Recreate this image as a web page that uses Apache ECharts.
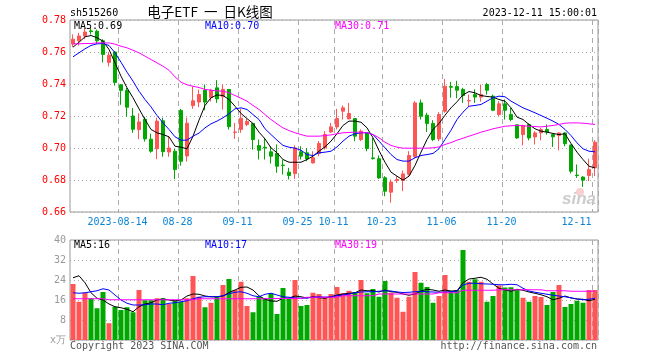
<!DOCTYPE html>
<html><head><meta charset="utf-8">
<script src="https://cdn.jsdelivr.net/npm/echarts@6/dist/echarts.min.js"></script>
<style>html,body{margin:0;padding:0;background:#fff}#c{width:660px;height:360px}</style>
</head><body><div id="c"></div>
<script>
const dates = ['2023-08-02','2023-08-03','2023-08-04','2023-08-07','2023-08-08','2023-08-09','2023-08-10','2023-08-11','2023-08-14','2023-08-15','2023-08-16','2023-08-17','2023-08-18','2023-08-21','2023-08-22','2023-08-23','2023-08-24','2023-08-25','2023-08-28','2023-08-29','2023-08-30','2023-08-31',
'2023-09-01','2023-09-04','2023-09-05','2023-09-06','2023-09-07','2023-09-08','2023-09-11','2023-09-12','2023-09-13','2023-09-14','2023-09-15','2023-09-18','2023-09-19','2023-09-20','2023-09-21','2023-09-22','2023-09-25','2023-09-26','2023-09-27','2023-09-28',
'2023-10-09','2023-10-10','2023-10-11','2023-10-12','2023-10-13','2023-10-16','2023-10-17','2023-10-18','2023-10-19','2023-10-20','2023-10-23','2023-10-24','2023-10-25','2023-10-26','2023-10-27','2023-10-30','2023-10-31',
'2023-11-01','2023-11-02','2023-11-03','2023-11-06','2023-11-07','2023-11-08','2023-11-09','2023-11-10','2023-11-13','2023-11-14','2023-11-15','2023-11-16','2023-11-17','2023-11-20','2023-11-21','2023-11-22','2023-11-23','2023-11-24','2023-11-27','2023-11-28','2023-11-29','2023-11-30',
'2023-12-01','2023-12-04','2023-12-05','2023-12-06','2023-12-07','2023-12-08','2023-12-11'];

const tickDates = ['2023-08-14','2023-08-28','2023-09-11','2023-09-25','2023-10-11','2023-10-23','2023-11-06','2023-11-20','2023-12-11'];
const tickTexts = ['2023-08-14','08-28','09-11','09-25','10-11','10-23','11-06','11-20','12-11'];

// [open, close, low, high]
const kdata = [
[0.765,0.768,0.763,0.771],[0.767,0.770,0.764,0.772],[0.770,0.7725,0.768,0.775],[0.7732,0.7728,0.771,0.775],[0.773,0.767,0.765,0.774],
[0.767,0.7585,0.7535,0.768],[0.7535,0.758,0.751,0.760],[0.760,0.741,0.739,0.7605],[0.7395,0.736,0.727,0.740],[0.736,0.7255,0.7195,0.7375],
[0.720,0.7117,0.7095,0.725],[0.7115,0.7163,0.7055,0.7217],[0.718,0.7057,0.704,0.7195],[0.7055,0.698,0.697,0.709],[0.6995,0.7168,0.693,0.719],
[0.717,0.6977,0.6945,0.719],[0.6975,0.700,0.6945,0.707],[0.698,0.6865,0.6805,0.6995],[0.7235,0.6917,0.689,0.7245],[0.695,0.7155,0.6915,0.719],
[0.7265,0.7295,0.7245,0.7385],[0.7287,0.7334,0.7255,0.7365],[0.7361,0.7287,0.7236,0.7397],[0.7314,0.7361,0.729,0.737],[0.7376,0.7307,0.7282,0.7424],
[0.732,0.7366,0.724,0.7397],[0.7366,0.7133,0.7116,0.7368],[0.7098,0.710,0.7057,0.7157],[0.7116,0.7186,0.7095,0.7245],[0.7147,0.7166,0.7136,0.7182],
[0.7153,0.7053,0.699,0.7155],[0.7015,0.6986,0.6928,0.7053],[0.7005,0.700,0.6928,0.7063],[0.6976,0.6949,0.6903,0.7011],[0.6966,0.6886,0.6845,0.7022],
[0.6893,0.6891,0.6834,0.6928],[0.6849,0.6828,0.6803,0.6876],[0.684,0.700,0.6807,0.7016],[0.6976,0.6949,0.6928,0.7011],[0.697,0.6932,0.6917,0.700],
[0.6907,0.6939,0.6903,0.698],[0.6966,0.7028,0.6949,0.7043],[0.7001,0.7084,0.699,0.7105],[0.710,0.7132,0.7095,0.7157],[0.7132,0.7184,0.7116,0.7245],
[0.723,0.7251,0.7178,0.7266],[0.7182,0.7216,0.718,0.7282],[0.7184,0.7074,0.7043,0.7186],[0.7053,0.7105,0.7043,0.7116],[0.7095,0.6997,0.698,0.7097],
[0.6938,0.6934,0.6928,0.7063],[0.6933,0.6813,0.6807,0.6953],[0.6814,0.673,0.6699,0.6824],[0.6724,0.6787,0.6658,0.6803],[0.6797,0.6803,0.6782,0.6824],
[0.6797,0.6838,0.673,0.6859],[0.6836,0.6953,0.6828,0.698],[0.6945,0.7282,0.6939,0.7293],[0.7282,0.7199,0.7178,0.7303],[0.7205,0.7153,0.710,0.722],
[0.7153,0.7053,0.7043,0.7174],[0.7057,0.7209,0.7043,0.7224],[0.723,0.7386,0.722,0.7432],[0.7384,0.738,0.7314,0.7413],[0.7384,0.7361,0.7311,0.742],
[0.7366,0.7328,0.7282,0.7376],[0.7295,0.7297,0.7257,0.7334],[0.7334,0.7318,0.7282,0.7366],[0.7318,0.7334,0.729,0.7397],[0.7397,0.7361,0.7334,0.7407],
[0.7324,0.7236,0.723,0.7334],[0.7209,0.7276,0.7199,0.7293],[0.7276,0.7236,0.7178,0.7303],[0.721,0.7178,0.7168,0.7251],[0.7145,0.7063,0.7057,0.7147],
[0.7084,0.714,0.7016,0.7145],[0.7147,0.7063,0.7048,0.7153],[0.7069,0.7094,0.7022,0.7105],[0.7095,0.7115,0.7048,0.7126],[0.7116,0.710,0.7084,0.7147],
[0.7084,0.707,0.7007,0.7086],[0.7078,0.7094,0.6985,0.7098],[0.7094,0.7027,0.7011,0.7098],[0.7018,0.6855,0.6841,0.7022],[0.6831,0.6828,0.6813,0.6897],
[0.6818,0.6799,0.6757,0.6824],[0.6828,0.6866,0.6793,0.6933],[0.6876,0.7036,0.6824,0.7049]];

const ma5 = [0.7630,0.7661,0.7695,0.7703,0.7689,0.7668,0.7616,0.7532,0.7449,0.7376,
0.7314,0.7245,0.7178,0.7116,0.7095,0.7084,0.7070,0.7011,0.7005,0.6995,
0.7074,0.7174,0.7266,0.7314,0.7332,0.7328,0.7303,0.7261,0.7216,0.7184,
0.7153,0.7099,0.7057,0.7001,0.6970,0.6928,0.6911,0.6911,0.6911,0.6928,
0.6949,0.6980,0.7007,0.7043,0.7089,0.7141,0.7168,0.7168,0.7161,0.7126,
0.7064,0.6984,0.6911,0.6849,0.6824,0.6799,0.6824,0.6891,0.6974,0.7053,
0.7116,0.7153,0.7205,0.7251,0.7289,0.7332,0.7353,0.7345,0.7328,0.7322,
0.7318,0.7303,0.7293,0.7251,0.7193,0.7178,0.7147,0.7120,0.7105,0.7099,
0.7091,0.7084,0.7089,0.7028,0.6974,0.6928,0.6886,0.6876];

const ma10 = [0.7570,0.7595,0.7620,0.7641,0.7651,0.7653,0.7641,0.7595,0.7536,0.7474,
0.7418,0.7355,0.7303,0.7257,0.7203,0.7157,0.7116,0.7070,0.7049,0.7049,
0.7074,0.7093,0.7126,0.7151,0.7168,0.7189,0.7214,0.7245,0.7251,0.7241,
0.7209,0.7178,0.7120,0.7084,0.7049,0.7016,0.7005,0.6999,0.6986,0.6959,
0.6953,0.6970,0.6974,0.6980,0.7007,0.7043,0.7074,0.7089,0.7095,0.7095,
0.7084,0.7043,0.7001,0.6959,0.6928,0.6918,0.6918,0.6939,0.6953,0.6959,
0.6966,0.6995,0.7053,0.7111,0.7178,0.7224,0.7261,0.7266,0.7272,0.7293,
0.7314,0.7324,0.7320,0.7293,0.7272,0.7251,0.7236,0.7220,0.7203,0.7186,
0.7168,0.7147,0.7116,0.7078,0.7032,0.6995,0.6980,0.6976];

const ma30 = [0.7651,0.7651,0.7653,0.7653,0.7657,0.7657,0.7657,0.7649,0.7636,0.7626,
0.7611,0.7595,0.7574,0.7553,0.7532,0.7511,0.7486,0.7445,0.7411,0.7395,
0.7386,0.7378,0.7366,0.7361,0.7357,0.7355,0.7345,0.7328,0.7311,0.7293,
0.7266,0.7241,0.7209,0.7178,0.7151,0.7126,0.7109,0.7095,0.7084,0.7074,
0.7074,0.7074,0.7078,0.7082,0.7089,0.7095,0.7097,0.7099,0.7099,0.7095,
0.7084,0.7064,0.7036,0.7016,0.7005,0.6999,0.6999,0.6999,0.6999,0.6999,
0.7001,0.7007,0.7022,0.7034,0.7049,0.7061,0.7074,0.7086,0.7099,0.7109,
0.7120,0.7128,0.7136,0.7139,0.7141,0.7139,0.7136,0.7134,0.7132,0.7136,
0.7141,0.7147,0.7155,0.7157,0.7157,0.7155,0.7151,0.7147];

// volume, x万
const vol = [22.4,15.3,18.9,16.7,12.7,19.2,6.7,13.3,12.0,13.1,
11.1,20.0,15.9,15.9,16.7,16.7,14.4,15.6,15.3,16.7,
25.6,17.3,13.1,14.9,17.3,22.0,24.4,20.0,23.3,13.6,
11.1,17.3,16.7,18.7,10.4,20.8,16.7,24.0,13.6,14.0,
18.9,18.4,17.3,18.4,21.2,18.7,19.7,19.1,24.0,18.7,
20.4,17.3,23.6,18.9,16.9,11.3,17.3,27.2,22.9,21.2,
14.9,17.6,26.0,19.6,20.0,36.0,23.3,24.3,23.3,15.3,
17.6,21.8,21.0,21.1,20.3,16.9,15.3,17.6,17.2,14.0,
19.2,22.0,13.2,14.4,15.7,14.9,20.0,20.0];

const volMa5 = [24.9,25.7,22.9,18.9,16.7,16.0,14.4,13.3,12.9,12.3,
11.3,13.3,14.4,14.9,16.0,16.4,16.0,15.7,16.0,17.6,
18.4,18.3,17.6,17.3,17.3,17.6,19.0,20.0,21.1,21.2,
20.0,17.7,16.3,15.6,15.5,16.7,16.8,17.6,17.3,16.8,
17.3,16.9,16.7,17.3,18.0,18.4,18.7,18.9,20.0,19.7,
19.7,19.2,20.0,19.3,19.1,18.4,17.9,18.4,19.6,20.3,
20.0,19.5,20.0,19.6,19.7,22.9,24.4,24.7,25.1,24.3,
22.4,20.7,20.0,19.5,20.3,19.9,19.2,18.7,18.1,17.3,
16.1,16.7,17.6,16.8,16.4,16.3,15.7,16.3];

const volMa10 = [18.9,18.7,18.9,19.3,19.7,20.5,20.0,18.0,16.0,14.7,
14.0,14.0,14.1,14.4,14.4,14.1,14.7,14.9,15.3,15.7,
16.5,17.1,17.3,17.3,17.3,17.7,18.5,19.1,19.3,18.7,
17.7,17.3,18.3,18.7,18.0,17.3,17.1,16.8,16.7,16.8,
17.1,17.3,17.1,17.3,17.7,18.0,18.4,18.9,19.2,19.3,
19.3,19.5,19.7,19.6,19.2,19.0,19.1,19.3,19.5,19.3,
19.2,19.1,19.2,19.3,19.6,22.0,22.7,22.7,22.5,22.4,
22.3,22.1,22.1,22.3,22.1,20.7,19.6,19.1,18.7,18.3,
17.9,17.6,17.3,16.9,16.4,16.1,16.3,16.7];

const volMa30 = [16.5,16.5,16.5,16.5,16.5,16.5,16.1,16.1,16.1,16.1,
16.1,16.1,16.1,16.1,16.1,16.1,16.1,16.1,16.1,16.1,
16.1,16.5,16.5,16.5,16.5,16.5,16.5,16.5,16.5,16.5,
16.5,16.5,16.5,16.6,16.6,16.6,16.6,16.6,16.6,17.1,
17.1,17.1,17.1,17.1,17.1,17.7,17.7,17.7,17.7,17.7,
17.7,18.4,18.4,18.4,18.4,18.4,18.4,18.4,18.4,18.4,
18.4,18.9,18.9,18.9,18.9,19.9,19.9,19.9,19.9,19.9,
19.9,20.1,20.1,20.1,20.1,20.1,20.1,20.1,20.1,19.7,
19.7,19.7,19.7,19.5,19.5,19.5,19.5,19.5];

const MONO = '"DejaVu Sans Mono", monospace';
const UP = '#ff5555', DOWN = '#00a800';
const tickIdx = tickDates.map(d => dates.indexOf(d));
const lastIdx = dates.length - 1;
const isTick = (i) => tickIdx.indexOf(i) >= 0;
const lblStyle = {color: '#0b84d6', fontFamily: MONO, fontSize: 10};

const dashed = {show: true, interval: (i) => isTick(i), lineStyle: {color: '#aaaaaa', type: [5, 4], width: 1}};
const dotted = {show: true, lineStyle: {color: '#aaaaaa', type: [1, 3], width: 1}};

const chart = echarts.init(document.getElementById('c'), null, {renderer: 'canvas'});

const lineS = (name, data, color, xi, yi) => ({
  name, type: 'line', data, xAxisIndex: xi, yAxisIndex: yi, symbol: 'none', smooth: false,
  lineStyle: {width: 1, color}, itemStyle: {color}, z: 5, silent: true
});

const option = {
  animation: false,
  backgroundColor: '#ffffff',
  grid: [
    {left: 70, top: 20, width: 528, height: 192, show: true, borderColor: '#999999', borderWidth: 1},
    {left: 70, top: 240, width: 528, height: 100, show: true, borderColor: '#999999', borderWidth: 1}
  ],
  xAxis: [
    {type: 'category', data: dates, gridIndex: 0, boundaryGap: true,
     axisLine: {show: false}, axisTick: {show: false},
     axisLabel: {
       interval: (i) => isTick(i), margin: 5, ...lblStyle,
       formatter: (v, i) => {
         const k = tickDates.indexOf(v);
         if (k < 0) return '';
         return (i === lastIdx ? '{r|' : '{a|') + tickTexts[k] + '}';
       },
       rich: {a: {...lblStyle, padding: [0, 7, 0, 0]}, r: {...lblStyle, padding: [0, 37, 0, 0]}}
     },
     splitLine: dashed},
    {type: 'category', data: dates, gridIndex: 1, boundaryGap: true,
     axisLine: {show: false}, axisTick: {show: false}, axisLabel: {show: false},
     splitLine: dashed}
  ],
  yAxis: [
    {type: 'value', gridIndex: 0, min: 0.66, max: 0.78, interval: 0.02, scale: true,
     axisLine: {show: false}, axisTick: {show: false},
     axisLabel: {color: '#ff0000', fontFamily: MONO, fontSize: 10, margin: 4, formatter: (v) => v.toFixed(2)},
     splitLine: dotted},
    {type: 'value', gridIndex: 1, min: 0, max: 40, interval: 8,
     axisLine: {show: false}, axisTick: {show: false},
     axisLabel: {color: '#999999', fontFamily: MONO, fontSize: 10, margin: 4, formatter: (v) => v === 0 ? 'x万' : String(v)},
     splitLine: dotted}
  ],
  series: [
    {type: 'candlestick', data: kdata, xAxisIndex: 0, yAxisIndex: 0, barWidth: 4, silent: true,
     itemStyle: {color: UP, color0: DOWN, borderColor: UP, borderColor0: DOWN, borderWidth: 1}, z: 3},
    lineS('MA5', ma5, '#000000', 0, 0),
    lineS('MA10', ma10, '#0000ff', 0, 0),
    lineS('MA30', ma30, '#ff00ff', 0, 0),
    {type: 'bar', xAxisIndex: 1, yAxisIndex: 1, barWidth: 5, silent: true, z: 3,
     data: vol.map((v, i) => ({value: v, itemStyle: {color: kdata[i][1] >= kdata[i][0] ? UP : DOWN}}))},
    lineS('VMA5', volMa5, '#000000', 1, 1),
    lineS('VMA10', volMa10, '#0000ff', 1, 1),
    lineS('VMA30', volMa30, '#ff00ff', 1, 1)
  ],
  graphic: [
    {type: 'text', x: 70, y: 13, style: {text: 'sh515260', font: '10px ' + MONO, fill: '#000', verticalAlign: 'middle'}},
    {type: 'text', x: 210, y: 12, style: {text: '电子ETF  一  日K线图', font: '13.5px "Noto Sans CJK SC"', fill: '#000', align: 'center', verticalAlign: 'middle'}},
    {type: 'text', x: 597, y: 13, style: {text: '2023-12-11 15:00:01', font: '10px ' + MONO, fill: '#000', align: 'right', verticalAlign: 'middle'}},
    {type: 'text', x: 74, y: 26, z: 10, style: {text: 'MA5:0.69', font: '10px ' + MONO, fill: '#000000', verticalAlign: 'middle'}},
    {type: 'text', x: 205, y: 26, z: 10, style: {text: 'MA10:0.70', font: '10px ' + MONO, fill: '#0000ff', verticalAlign: 'middle'}},
    {type: 'text', x: 335, y: 26, z: 10, style: {text: 'MA30:0.71', font: '10px ' + MONO, fill: '#ff00ff', verticalAlign: 'middle'}},
    {type: 'text', x: 74, y: 245.5, z: 10, style: {text: 'MA5:16', font: '10px ' + MONO, fill: '#000000', verticalAlign: 'middle'}},
    {type: 'text', x: 205, y: 245.5, z: 10, style: {text: 'MA10:17', font: '10px ' + MONO, fill: '#0000ff', verticalAlign: 'middle'}},
    {type: 'text', x: 335, y: 245.5, z: 10, style: {text: 'MA30:19', font: '10px ' + MONO, fill: '#ff00ff', verticalAlign: 'middle'}},
    {type: 'text', x: 70, y: 346, style: {text: 'Copyright 2023 SINA.COM', font: '10px ' + MONO, fill: '#555555', verticalAlign: 'middle'}},
    {type: 'text', x: 597, y: 346, style: {text: 'http://finance.sina.com.cn', font: '10px ' + MONO, fill: '#555555', align: 'right', verticalAlign: 'middle'}},
    {type: 'circle', shape: {cx: 580, cy: 192, r: 4}, style: {fill: 'rgba(240,150,150,0.45)'}, z: 1},
    {type: 'text', x: 596, y: 199, z: 1, style: {text: 'sina', font: 'italic bold 17px "Liberation Sans"', fill: '#cccccc', align: 'right', verticalAlign: 'middle'}}
  ]
};
chart.setOption(option);
</script>
</body></html>
